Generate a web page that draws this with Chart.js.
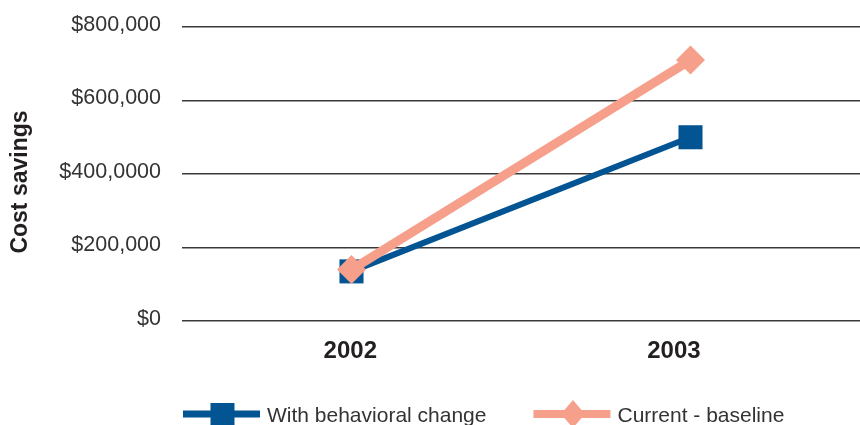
<!DOCTYPE html>
<html>
<head>
<meta charset="utf-8">
<script src="https://cdn.jsdelivr.net/npm/chart.js@4/dist/chart.umd.min.js"></script>
<style>
  html, body { margin: 0; padding: 0; background: #ffffff; }
  #wrap { width: 860px; height: 425px; }
</style>
</head>
<body>
<div id="wrap"><canvas id="c" width="860" height="425"></canvas></div>
<script>
// Chart data
const years = ['2002', '2003'];
const withBehavioralChange = [135000, 500000];
const currentBaseline = [140000, 710000];
const yTickLabels = ['$0', '$200,000', '$400,0000', '$600,000', '$800,000'];

const BLUE = '#035493';
const SALMON = '#f69f8a';
const FONT = '"Liberation Sans", Arial, sans-serif';

// Legend entries, drawn under the plot with a line-and-marker swatch
const legendItems = [
  { label: 'With behavioral change', color: BLUE, style: 'square', lineWidth: 7 },
  { label: 'Current - baseline', color: SALMON, style: 'diamond', lineWidth: 8 }
];

const decorPlugin = {
  id: 'decor',
  afterDraw(chart) {
    const ctx = chart.ctx;
    const area = chart.chartArea;
    ctx.save();

    // Rotated y-axis title
    ctx.save();
    ctx.translate(27, area.top + (area.bottom - area.top) / 2 + 8);
    ctx.rotate(-Math.PI / 2);
    ctx.font = 'bold 23px ' + FONT;
    ctx.fillStyle = '#231f20';
    ctx.textAlign = 'center';
    ctx.textBaseline = 'alphabetic';
    ctx.fillText('Cost savings', 0, 0);
    ctx.restore();

    // Legend
    let x = area.left + 1;
    const cy = 414;
    ctx.font = '21px ' + FONT;
    legendItems.forEach((it) => {
      const lineLen = 77;
      ctx.strokeStyle = it.color;
      ctx.lineWidth = it.lineWidth;
      ctx.beginPath();
      ctx.moveTo(x, cy);
      ctx.lineTo(x + lineLen, cy);
      ctx.stroke();
      const mx = x + lineLen / 2 + 1;
      ctx.fillStyle = it.color;
      ctx.beginPath();
      if (it.style === 'square') {
        ctx.rect(mx - 12, cy - 11, 24, 22);
      } else {
        ctx.moveTo(mx, cy - 14);
        ctx.lineTo(mx + 12, cy);
        ctx.lineTo(mx, cy + 14);
        ctx.lineTo(mx - 12, cy);
        ctx.closePath();
      }
      ctx.fill();
      ctx.fillStyle = '#333333';
      ctx.textAlign = 'left';
      ctx.textBaseline = 'alphabetic';
      const tx = x + lineLen + 7;
      ctx.fillText(it.label, tx, 422);
      x = tx + ctx.measureText(it.label).width + 47;
    });
    ctx.restore();
  }
};

new Chart(document.getElementById('c'), {
  type: 'line',
  data: {
    labels: years,
    datasets: [
      {
        label: 'With behavioral change',
        data: withBehavioralChange,
        borderColor: BLUE,
        backgroundColor: BLUE,
        borderWidth: 6,
        pointStyle: 'rect',
        pointRadius: 17,
        pointBorderWidth: 0,
        pointBackgroundColor: BLUE,
        tension: 0,
        order: 1
      },
      {
        label: 'Current - baseline',
        data: currentBaseline,
        borderColor: SALMON,
        backgroundColor: SALMON,
        borderWidth: 9,
        pointStyle: 'rectRot',
        pointRadius: 14.5,
        pointBorderWidth: 0,
        pointBackgroundColor: SALMON,
        tension: 0,
        order: 0
      }
    ]
  },
  options: {
    responsive: false,
    animation: false,
    devicePixelRatio: 1,
    clip: false,
    layout: { autoPadding: false, padding: { top: 27, right: 0, bottom: 0, left: 0 } },
    plugins: {
      legend: { display: false },
      tooltip: { enabled: false }
    },
    scales: {
      x: {
        type: 'category',
        offset: true,
        display: false
      },
      xl: {
        type: 'linear',
        position: 'bottom',
        min: -0.52,
        max: 1.575,
        grid: { display: false, drawTicks: false },
        border: { display: false },
        afterBuildTicks: (axis) => { axis.ticks = years.map((_, i) => ({ value: i })); },
        afterFit: (axis) => {
          axis.height = 104;
          axis.paddingLeft = 0;
          axis.paddingRight = 0;
        },
        ticks: {
          padding: 16,
          maxRotation: 0,
          autoSkip: false,
          font: { family: FONT, size: 24, weight: 'bold' },
          color: '#231f20',
          callback: (v) => years[v]
        }
      },
      y: {
        min: 0,
        max: 800000,
        afterFit: (axis) => {
          axis.width = 182;
          axis.paddingTop = 0;
          axis.paddingBottom = 0;
        },
        afterBuildTicks: (axis) => { axis.ticks = yTickLabels.map((_, i) => ({ value: i * 200000 })); },
        grid: { color: '#3a3a3a', lineWidth: 1.5, drawTicks: false },
        border: { display: false },
        ticks: {
          padding: 21,
          labelOffset: -2,
          font: { family: FONT, size: 21.5 },
          color: '#333333',
          callback: (v) => yTickLabels[Math.round(v / 200000)]
        }
      }
    }
  },
  plugins: [decorPlugin]
});
</script>
</body>
</html>
